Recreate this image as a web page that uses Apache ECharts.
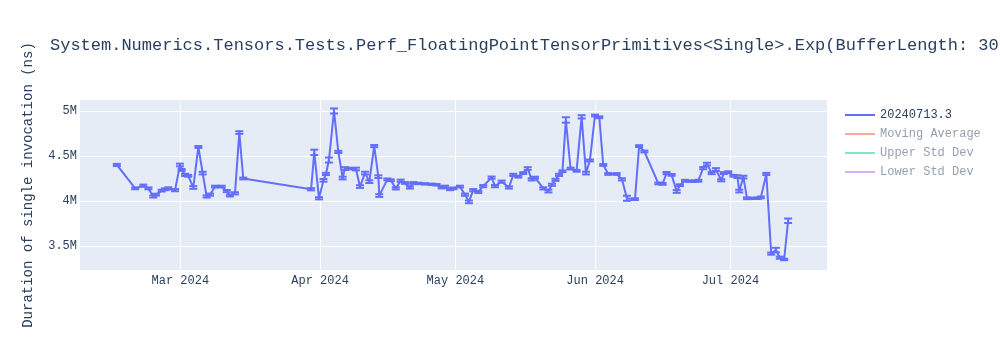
<!DOCTYPE html>
<html>
<head>
<meta charset="utf-8">
<script src="https://cdn.jsdelivr.net/npm/echarts@6.0.0/dist/echarts.min.js"></script>
<style>
html,body{margin:0;padding:0;background:#fff;}
#chart{width:1000px;height:350px;}
</style>
</head>
<body>
<div id="chart"></div>
<script>
const titleText = 'System.Numerics.Tensors.Tests.Perf_FloatingPointTensorPrimitives<Single>.Exp(BufferLength: 3079)';
const yAxisTitle = 'Duration of single invocation (ns)';
const seriesName = '20240713.3';
const extraSeries = ['Moving Average', 'Upper Std Dev', 'Lower Std Dev'];

const dates = [
 '2024-02-15T22:00','2024-02-20T00:00','2024-02-21T19:00','2024-02-22T22:00','2024-02-24T00:00',
 '2024-02-24T14:00','2024-02-25T21:00','2024-02-26T14:00','2024-02-27T08:00','2024-02-28T20:00',
 '2024-02-29T22:00','2024-03-01T07:00','2024-03-02T01:00','2024-03-02T18:00','2024-03-03T21:00',
 '2024-03-05T00:00','2024-03-05T23:00','2024-03-06T20:00','2024-03-07T14:00','2024-03-08T17:00',
 '2024-03-10T04:00','2024-03-11T07:00','2024-03-12T00:00','2024-03-13T03:00','2024-03-14T02:00',
 '2024-03-14T23:00',
 '2024-03-30T00:00','2024-03-30T17:00','2024-03-31T18:00','2024-04-01T18:00','2024-04-02T07:00',
 '2024-04-02T23:00','2024-04-04T02:00','2024-04-05T01:00','2024-04-06T00:00','2024-04-06T12:00',
 '2024-04-07T06:00','2024-04-08T23:00','2024-04-09T20:00','2024-04-10T23:00','2024-04-11T22:00',
 '2024-04-13T00:00','2024-04-13T22:00','2024-04-14T03:00','2024-04-15T22:00','2024-04-16T16:00',
 '2024-04-17T19:00','2024-04-18T21:00','2024-04-19T20:00','2024-04-20T22:00','2024-04-21T16:00',
 '2024-04-22T18:00','2024-04-24T06:00','2024-04-25T18:00','2024-04-26T20:00','2024-04-27T23:00',
 '2024-04-28T17:00','2024-04-29T19:00','2024-04-30T13:00','2024-05-02T00:00','2024-05-03T03:00',
 '2024-05-04T00:00','2024-05-04T23:00','2024-05-06T02:00','2024-05-07T04:00','2024-05-09T01:00',
 '2024-05-09T19:00','2024-05-11T06:00','2024-05-12T21:00','2024-05-13T20:00','2024-05-14T23:00',
 '2024-05-16T01:00','2024-05-17T01:00','2024-05-17T22:00','2024-05-18T16:00','2024-05-20T12:00',
 '2024-05-21T15:00','2024-05-22T10:00','2024-05-23T05:00','2024-05-24T00:00','2024-05-24T18:00',
 '2024-05-25T12:00','2024-05-26T13:00','2024-05-27T21:00','2024-05-29T00:00','2024-05-29T23:00',
 '2024-05-30T20:00','2024-05-31T23:00','2024-06-01T22:00','2024-06-02T19:00','2024-06-03T22:00',
 '2024-06-05T18:00','2024-06-06T23:00','2024-06-08T01:00','2024-06-09T20:00','2024-06-10T18:00',
 '2024-06-11T22:00','2024-06-15T00:00','2024-06-15T23:00','2024-06-16T20:00','2024-06-17T23:00',
 '2024-06-19T02:00','2024-06-19T19:00','2024-06-20T22:00','2024-06-22T00:00','2024-06-23T02:00',
 '2024-06-23T21:00','2024-06-24T23:00','2024-06-25T19:00','2024-06-26T20:00','2024-06-27T19:00',
 '2024-06-28T23:00','2024-06-29T13:00','2024-06-30T12:00','2024-07-01T16:00','2024-07-02T13:00',
 '2024-07-02T23:00','2024-07-03T21:00','2024-07-04T16:00','2024-07-05T21:00','2024-07-07T02:00',
 '2024-07-07T18:00','2024-07-08T23:00','2024-07-10T01:00','2024-07-11T02:00','2024-07-11T23:00',
 '2024-07-12T22:00','2024-07-13T19:00'
];

const values = [
 4400000,4140000,4170000,4140000,4050000,
 4070000,4115000,4130000,4140000,4120000,
 4400000,4345000,4290000,4280000,4150000,
 4600000,4310000,4050000,4070000,4160000,
 4160000,4110000,4060000,4085000,4760000,
 4250000,
 4130000,4540000,4030000,4230000,4300000,
 4455000,5000000,4545000,4255000,4360000,
 4360000,4355000,4160000,4310000,4215000,
 4610000,4270000,4060000,4240000,4230000,
 4140000,4225000,4200000,4150000,4200000,
 4195000,4190000,4185000,4180000,4150000,
 4160000,4130000,4140000,4160000,4070000,
 3990000,4120000,4100000,4165000,4260000,
 4165000,4215000,4150000,4290000,4270000,
 4310000,4360000,4240000,4260000,4140000,
 4110000,4180000,4235000,4290000,4330000,
 4900000,4360000,4335000,4935000,4310000,
 4450000,4950000,4930000,4400000,4300000,
 4300000,4240000,4030000,4020000,4610000,
 4550000,4195000,4190000,4310000,4290000,
 4105000,4175000,4225000,4220000,4220000,
 4225000,4365000,4410000,4310000,4350000,
 4230000,4310000,4320000,4280000,4270000,
 4110000,4265000,4030000,4030000,4030000,
 4040000,4300000,3415000,3455000,3370000,
 3350000,3780000
];

const errors = [
 12000,10000,12000,10000,12000,
 10000,10000,10000,12000,12000,
 15000,10000,12000,10000,15000,
 10000,15000,12000,12000,10000,
 10000,12000,10000,12000,15000,
 10000,
 12000,30000,12000,15000,12000,
 28000,28000,12000,15000,15000,
 10000,15000,15000,15000,15000,
 12000,15000,15000,10000,10000,
 12000,12000,10000,12000,10000,
 8000,8000,8000,8000,10000,
 10000,10000,10000,10000,12000,
 15000,12000,12000,12000,12000,
 12000,12000,12000,12000,10000,
 10000,15000,12000,10000,12000,
 15000,12000,12000,12000,10000,
 30000,10000,10000,18000,15000,
 10000,10000,10000,10000,10000,
 10000,12000,28000,10000,10000,
 10000,10000,10000,12000,10000,
 15000,10000,10000,8000,8000,
 10000,12000,15000,12000,15000,
 12000,10000,10000,10000,15000,
 15000,15000,10000,8000,8000,
 10000,12000,12000,25000,12000,
 8000,25000
];

const xTickDates = ['2024-03-01T00:00','2024-04-01T00:00','2024-05-01T00:00','2024-06-01T00:00','2024-07-01T00:00'];
const xTickLabels = ['Mar 2024','Apr 2024','May 2024','Jun 2024','Jul 2024'];
const yTickValues = [3500000, 4000000, 4500000, 5000000];
const yTickLabels = ['3.5M', '4M', '4.5M', '5M'];

const xMin = '2024-02-07T18:00';
const xMax = '2024-07-22T10:00';
const yMin = 3233000;
const yMax = 5122000;

const FONT = '"Liberation Mono", "Courier New", monospace';
const TXT = '#2a3f5f';
const MAIN = '#636efa';
const extraColors = ['#f7aa9d', '#80e6cb', '#d5b1fd'];
const fadedText = '#949fb0';

const ts = d => new Date(d).getTime();
const xTickTs = xTickDates.map(ts);
const lineData = dates.map((d, i) => [ts(d), values[i]]);
const errData = dates.map((d, i) => [ts(d), values[i], errors[i]]);

const chart = echarts.init(document.getElementById('chart'), null, {renderer: 'canvas'});

const option = {
  animation: false,
  backgroundColor: '#ffffff',
  title: {
    text: titleText,
    left: 50, top: 37, padding: 0,
    textStyle: {fontFamily: FONT, fontSize: 17, fontWeight: 'normal', color: TXT}
  },
  legend: {
    orient: 'vertical',
    left: 845, top: 108,
    padding: 0,
    itemWidth: 30, itemHeight: 2,
    itemGap: 5,
    icon: 'rect',
    textStyle: {fontFamily: FONT, fontSize: 12, color: TXT, lineHeight: 14},
    selectedMode: false,
    data: [
      {name: seriesName, textStyle: {color: TXT}},
      {name: extraSeries[0], textStyle: {color: fadedText}},
      {name: extraSeries[1], textStyle: {color: fadedText}},
      {name: extraSeries[2], textStyle: {color: fadedText}}
    ]
  },
  grid: {
    left: 80, top: 100, width: 747, height: 170,
    show: true, backgroundColor: '#e5ecf6', borderWidth: 0
  },
  xAxis: {
    type: 'value',
    min: ts(xMin), max: ts(xMax),
    axisLine: {show: false},
    axisTick: {show: false, customValues: xTickTs},
    splitLine: {show: true, lineStyle: {color: '#ffffff', width: 1}},
    axisLabel: {
      customValues: xTickTs,
      formatter: (v) => { const i = xTickTs.indexOf(v); return i >= 0 ? xTickLabels[i] : ''; },
      fontFamily: FONT, fontSize: 12, color: TXT, margin: 5
    }
  },
  yAxis: {
    type: 'value',
    min: yMin, max: yMax,
    name: yAxisTitle,
    nameLocation: 'middle',
    nameGap: 45,
    nameTextStyle: {fontFamily: FONT, fontSize: 14, color: TXT},
    axisLine: {show: false},
    axisTick: {show: false, customValues: yTickValues},
    splitLine: {show: true, lineStyle: {color: '#ffffff', width: 1}},
    axisLabel: {
      customValues: yTickValues,
      formatter: (v) => { const i = yTickValues.indexOf(v); return i >= 0 ? yTickLabels[i] : ''; },
      fontFamily: FONT, fontSize: 12, color: TXT, margin: 3
    }
  },
  series: [
    {
      name: seriesName,
      type: 'line',
      data: lineData,
      symbol: 'none',
      color: MAIN,
      lineStyle: {color: MAIN, width: 2},
      z: 3
    },
    {
      name: 'errorbars',
      type: 'custom',
      data: errData,
      encode: {x: 0, y: 1},
      z: 4,
      renderItem: function (params, api) {
        const x = api.value(0), y = api.value(1), e = api.value(2);
        const hi = api.coord([x, y + e]);
        const lo = api.coord([x, y - e]);
        const w = 4;
        const st = {stroke: MAIN, lineWidth: 2};
        return {
          type: 'group',
          children: [
            {type: 'line', shape: {x1: hi[0], y1: hi[1], x2: lo[0], y2: lo[1]}, style: st},
            {type: 'line', shape: {x1: hi[0] - w, y1: hi[1], x2: hi[0] + w, y2: hi[1]}, style: st},
            {type: 'line', shape: {x1: lo[0] - w, y1: lo[1], x2: lo[0] + w, y2: lo[1]}, style: st}
          ]
        };
      }
    },
    {name: extraSeries[0], type: 'line', data: [], color: extraColors[0], lineStyle: {color: extraColors[0]}},
    {name: extraSeries[1], type: 'line', data: [], color: extraColors[1], lineStyle: {color: extraColors[1]}},
    {name: extraSeries[2], type: 'line', data: [], color: extraColors[2], lineStyle: {color: extraColors[2]}}
  ]
};
chart.setOption(option);
</script>
</body>
</html>
